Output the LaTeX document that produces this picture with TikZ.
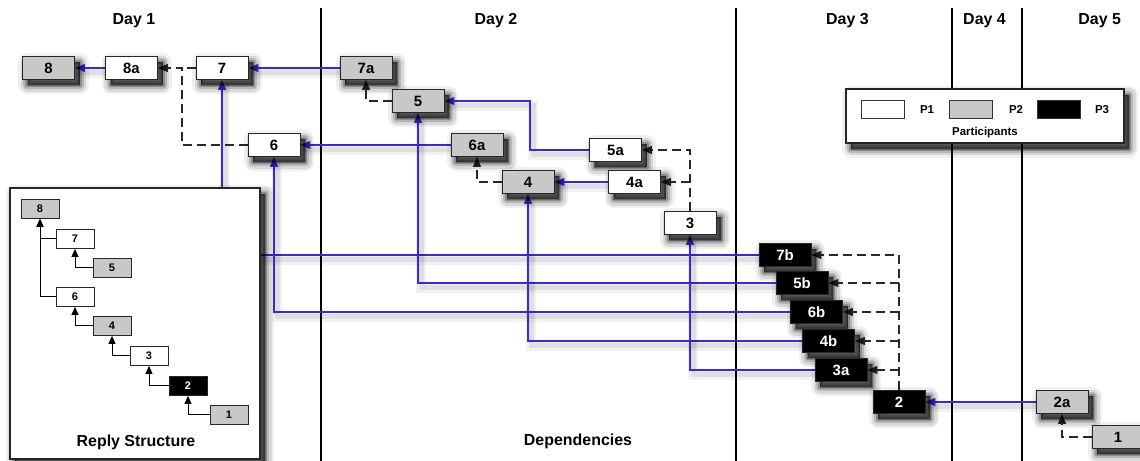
\documentclass[tikz,border=0pt]{standalone}
\usepackage{fontspec}
\setmainfont{Liberation Sans}
\usetikzlibrary{arrows.meta}
\definecolor{pgray}{RGB}{200,200,200}
\definecolor{repblue}{RGB}{55,40,230}
\definecolor{dashgray}{RGB}{40,40,40}
\pgfdeclarelayer{background}
\pgfsetlayers{background,main}
\tikzset{
  shl/.style 2 args={preaction={fill=black, fill opacity=#1, draw=black, draw opacity=#1,
      line width=#2, line join=round, transform canvas={shift={(5bp,-6bp)}}}},
  nshadow/.style={shl={0.06}{18bp}, shl={0.10}{13bp}, shl={0.16}{8bp}, shl={0.22}{4bp}, shl={0.28}{0.5bp}},
  base/.style={nshadow, draw=black!85, line width=0.9bp, minimum width=52bp, minimum height=23bp,
    inner sep=0pt, font=\fontsize{15}{18}\selectfont\bfseries},
  pa/.style={base, fill=white},
  pb/.style={base, fill=pgray},
  pc/.style={base, fill=black, text=white},
  rnode/.style={draw=black!85, line width=0.8bp, minimum width=38bp, minimum height=19bp,
    inner sep=0pt, font=\fontsize{11}{13}\selectfont\bfseries},
  ra/.style={rnode, fill=white},
  rb/.style={rnode, fill=pgray},
  rc/.style={rnode, fill=black, text=white},
  rep/.style={draw=repblue, line width=1.3bp, -{Triangle[length=10bp,width=8bp]},
    preaction={draw=black, draw opacity=0.05, line width=10bp, arrows=-, transform canvas={shift={(3bp,-5bp)}}},
    preaction={draw=black, draw opacity=0.08, line width=5bp, arrows=-, transform canvas={shift={(3bp,-5bp)}}}},
  dep/.style={draw=dashgray, line width=1.2bp, dash pattern=on 9bp off 5bp, -{Triangle[length=10bp,width=8bp]}},
  depl/.style={draw=dashgray, line width=1.2bp, dash pattern=on 9bp off 5bp},
  rline/.style={draw=black, line width=1bp, -{Triangle[length=8bp,width=7bp]}},
  dayline/.style={draw=black, line width=1.5bp},
  daylab/.style={anchor=base, font=\fontsize{16}{19}\selectfont\bfseries},
  biglab/.style={anchor=base, font=\fontsize{16}{19}\selectfont\bfseries},
  leglab/.style={anchor=base, font=\fontsize{11.5}{13}\selectfont\bfseries},
  swatch/.style={draw=black!80, line width=0.9bp, minimum width=43bp, minimum height=18bp, inner sep=0pt},
  panel/.style={nshadow, draw=black!85, line width=1.2bp, fill=white, inner sep=0pt}
}
\begin{document}
\begin{tikzpicture}[x=1bp,y=-1bp]
\useasboundingbox (0,0) rectangle (1140,461);

% day separators
\begin{pgfonlayer}{background}
\coordinate (d1t) at (321,8);   \coordinate (d1b) at (321,461);
\coordinate (d2t) at (736,8);   \coordinate (d2b) at (736,461);
\coordinate (d3t) at (952,8);   \coordinate (d3b) at (952,461);
\coordinate (d4t) at (1022,8);  \coordinate (d4b) at (1022,461);
\draw[dayline] (d1t) -- (d1b);
\draw[dayline] (d2t) -- (d2b);
\draw[dayline] (d3t) -- (d3b);
\draw[dayline] (d4t) -- (d4b);
\end{pgfonlayer}

\node[daylab] (day1) at (134,24.5) {Day 1};
\node[daylab] (day2) at (496,24.5) {Day 2};
\node[daylab] (day3) at (847.5,24.5) {Day 3};
\node[daylab] (day4) at (984.5,24.5) {Day 4};
\node[daylab] (day5) at (1099.7,24.5) {Day 5};

% main nodes
\node[pb] (n8)  at (48.5,68) {8};
\node[pa] (n8a) at (131.5,68) {8a};
\node[pa] (n7)  at (222,68) {7};
\node[pb] (n7a) at (366,68) {7a};
\node[pb] (n5)  at (418,101) {5};
\node[pa] (n6)  at (274,145) {6};
\node[pb] (n6a) at (477,145) {6a};
\node[pa] (n5a) at (615.5,150) {5a};
\node[pb] (n4)  at (528,182) {4};
\node[pa] (n4a) at (634.5,182) {4a};
\node[pa] (n3)  at (690,223) {3};
\node[pc] (n7b) at (785,255) {7b};
\node[pc] (n5b) at (802,283) {5b};
\node[pc] (n6b) at (816.5,312) {6b};
\node[pc] (n4b) at (828.5,341) {4b};
\node[pc] (n3a) at (841,370) {3a};
\node[pc] (n2)  at (899,402) {2};
\node[pb] (n2a) at (1062,402) {2a};
\node[pb] (n1)  at (1118,437) {1};

\node[biglab] (deps) at (578,446) {Dependencies};

% connectors
\begin{pgfonlayer}{background}
\coordinate (j8) at (182,68);
\coordinate (b5) at (530,125);
\draw[rep] (n8a.west) -- (n8.east);
\draw[rep] (n7a.west) -- (n7.east);
\draw[rep] (n5a.west) -| (b5) |- (n5.east);
\draw[rep] (n6a.west) -- (n6.east);
\draw[rep] (n4a.west) -- (n4.east);
\draw[rep] (n2a.west) -- (n2.east);
\draw[rep] (n7b.west) -| (n7.south);
\draw[rep] (n5b.west) -| (n5.south);
\draw[rep] (n6b.west) -| (n6.south);
\draw[rep] (n4b.west) -| (n4.south);
\draw[rep] (n3a.west) -| (n3.south);

\draw[dep] (n6.west) -| (j8) -- (n8a.east);
\draw[depl] (n7.west) -- (j8);
\draw[dep] (n5.west) -| (n7a.south);
\draw[dep] (n4.west) -| (n6a.south);
\draw[dep] (n3.north) |- (n5a.east);
\draw[dep] (n3.north |- n4a.east) -- (n4a.east);
\draw[dep] (n2.north) |- (n7b.east);
\foreach \b in {5b,6b,4b,3a} {
  \draw[dep] (n2.north |- n\b.east) -- (n\b.east);
}
\draw[dep] (n1.west) -| (n2a.south);
\end{pgfonlayer}

% reply structure panel
\node[panel, minimum width=250bp, minimum height=271bp] (reply) at (135,323.5) {};
\node[rb] (r8) at (40,209) {8};
\node[ra] (r7) at (75,239) {7};
\node[rb] (r5) at (112,268) {5};
\node[ra] (r6) at (75,297) {6};
\node[rb] (r4) at (112,326) {4};
\node[ra] (r3) at (149,356) {3};
\node[rc] (r2) at (188,386) {2};
\node[rb] (r1) at (229,415) {1};
\draw[rline] (r7.west) -| (r8.south);
\draw[rline] (r6.west) -| (r8.south);
\draw[rline] (r5.west) -| (r7.south);
\draw[rline] (r4.west) -| (r6.south);
\draw[rline] (r3.west) -| (r4.south);
\draw[rline] (r2.west) -| (r3.south);
\draw[rline] (r1.west) -| (r2.south);
\node[biglab] (replylab) at (136,446.5) {Reply Structure};

% legend
\node[panel, minimum width=278bp, minimum height=54bp] (leg) at (985,116) {};
\node[swatch, fill=white] (lw) at (882.5,109) {};
\node[swatch, fill=pgray] (lg) at (970.5,109) {};
\node[swatch, fill=black] (lk) at (1058.5,109) {};
\node[leglab] (p1) at (927,113.3) {P1};
\node[leglab] (p2) at (1016,113.3) {P2};
\node[leglab] (p3) at (1102,113.3) {P3};
\node[leglab] (parts) at (985,136) {Participants};
\end{tikzpicture}
\end{document}
